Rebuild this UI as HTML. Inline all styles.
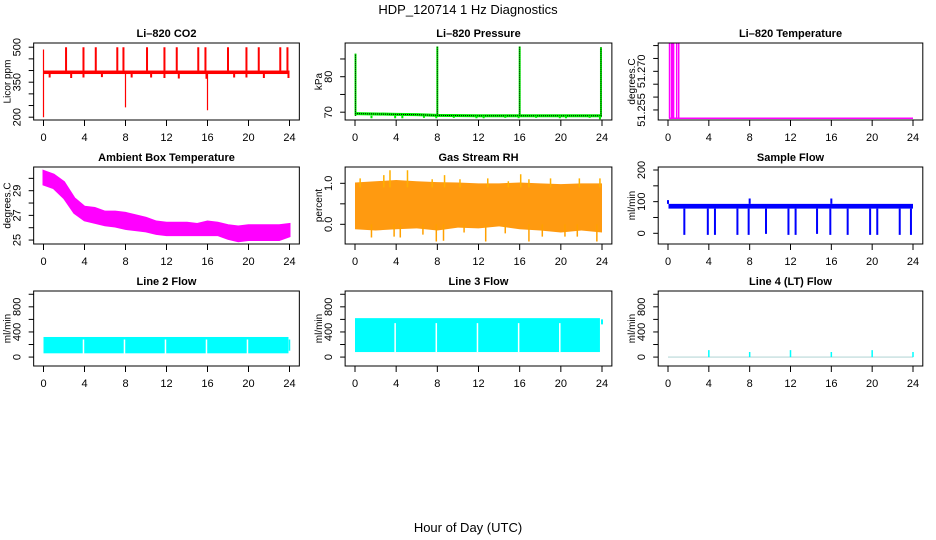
<!DOCTYPE html>
<html><head><meta charset="utf-8">
<style>
html,body{margin:0;padding:0;background:#fff;}
svg{display:block;font-family:"Liberation Sans",Arial,sans-serif;}
</style></head>
<body>
<svg id="chart" width="936" height="540" viewBox="0 0 936 540" xmlns="http://www.w3.org/2000/svg">
<text x="468" y="14" font-size="13" text-anchor="middle">HDP_120714  1 Hz Diagnostics</text>
<text x="468" y="532" font-size="13" text-anchor="middle">Hour of Day (UTC)</text>
</svg>
<script>
// ---- data ----
const xTicks = [0,4,8,12,16,20,24];
// CO2
const co2BaseLow = 385, co2BaseHigh = 400;
const co2SpikeHours = [2.2,3.9,5.1,7.2,7.8,10.1,11.8,13.0,15.1,15.8,18.0,19.8,21.0,23.1,23.8];
const co2SpikeValues = [500,500,500,500,500,500,500,500,500,500,500,500,500,500,500];
const co2DipHours = [0.6,2.7,3.9,5.7,8.6,10.5,11.8,13.2,15.9,18.6,19.8,21.5,23.9];
const co2DipValues = [370,368,370,372,370,370,368,366,365,370,370,368,368];
const co2BigDipHours = [0.0,8.0,16.0];
const co2BigDipValues = [200,242,230];
const co2Ticks = [200,250,300,350,400,450,500];
const co2TickLabels = ["200","","","350","","","500"];
// Pressure
const pressHours = [0,2,4,6,8,12,16,20,24];
const pressLevels = [69.6,69.5,69.4,69.3,69.1,69.0,69.0,69.0,69.0];
const pressSpikeHours = [0.05,8.0,16.0,23.9];
const pressSpikeValues = [86.5,88.5,88.5,88.3];
const pressDipHours = [1.6,3.9,4.6,6.7,7.9,9.6,11.8,12.5,14.6,15.9,17.6,19.9,20.5,22.8,23.8];
const pressDipValues = [68.3,68.3,68.3,68.4,68.3,68.4,68.3,68.3,68.4,68.3,68.4,68.3,68.3,68.4,68.0];
const pressTicks = [70,75,80,85];
const pressTickLabels = ["70","","80",""];
// Li-820 temperature
const tempBase = 51.2518;
const tempSpikeHours = [0.15,0.35,0.45,0.55,0.85,1.05];
const tempSpikeValues = [51.282,51.282,51.282,51.282,51.282,51.282];
const tempTicks = [51.255,51.260,51.265,51.270,51.275,51.280];
const tempTickLabels = ["51.255","","","51.270","",""];
// Ambient box temperature (hourly envelope)
const ambHours = [0,1,2,3,4,5,6,7,8,9,10,11,12,13,14,15,16,17,18,19,20,21,22,23,24];
const ambHigh = [30.6,30.3,29.7,28.4,27.7,27.6,27.3,27.3,27.2,27.0,26.8,26.5,26.4,26.4,26.4,26.3,26.5,26.4,26.2,26.1,26.2,26.2,26.2,26.2,26.3];
const ambLow = [29.5,29.2,28.4,27.2,26.6,26.4,26.2,26.1,25.9,25.8,25.7,25.5,25.4,25.4,25.4,25.4,25.4,25.4,25.1,24.9,25.0,25.0,25.0,25.0,25.3];
const ambTicks = [25,26,27,28,29,30];
const ambTickLabels = ["25","","27","","29",""];
// Gas stream RH
const rhHours = [0,2,4,6,8,10,12,14,16,18,20,22,24];
const rhHigh = [1.02,1.05,1.08,1.05,1.03,1.02,1.0,1.0,1.02,1.0,0.98,1.0,1.0];
const rhLow = [-0.12,-0.15,-0.12,-0.1,-0.15,-0.08,-0.1,-0.05,-0.12,-0.15,-0.2,-0.15,-0.2];
const rhSpikeHours = [0.5,2.8,3.4,5.1,7.5,8.7,10.2,12.9,14.9,16.1,16.9,19.0,21.8,23.8];
const rhSpikeValues = [1.12,1.2,1.32,1.32,1.1,1.2,1.1,1.12,1.05,1.22,1.1,1.12,1.12,1.12];
const rhDipHours = [1.6,3.8,4.4,6.6,7.9,8.6,10.6,12.7,14.6,16.9,18.2,20.4,21.6,23.5];
const rhDipValues = [-0.32,-0.3,-0.32,-0.25,-0.42,-0.4,-0.2,-0.42,-0.22,-0.42,-0.3,-0.3,-0.3,-0.42];
const rhTicks = [0,0.5,1.0];
const rhTickLabels = ["0.0","","1.0"];
// Sample flow
const sfBaseLow = 78, sfBaseHigh = 93;
const sfDropHours = [1.6,3.9,4.6,6.8,7.9,9.6,11.8,12.5,14.6,15.9,17.6,19.8,20.5,22.7,23.8];
const sfDropValues = [-5,-5,-5,-5,-5,-2,-5,-5,-2,-5,-5,-5,-5,-5,-5];
const sfSpikeHours = [0.0,8.0,16.0];
const sfSpikeValues = [105,110,110];
const sfTicks = [0,50,100,150,200];
const sfTickLabels = ["0","","100","","200"];
// Line flows
const lineFlowTicks = [0,200,400,600,800,1000];
const lineFlowTickLabels = ["0","","400","","800",""];
const gapHours = [4,8,12,16,20];
const line2Low = 60, line2High = 320;
const line3Low = 80, line3High = 620;
const line4SpikeHours = [4,8,12,16,20,24];
const line4SpikeValues = [110,80,110,80,110,80];

// ---- layout ----
const svg = document.getElementById('chart');
const NS = 'http://www.w3.org/2000/svg';
const cols = [{x0:43.5,x24:289.5},{x0:355,x24:602},{x0:668,x24:913}];
const rows = [{t:43,b:120},{t:167,b:244},{t:291,b:366}];
function mk(tag, attrs, parent){
  const e = document.createElementNS(NS, tag);
  for (const k in attrs) e.setAttribute(k, attrs[k]);
  (parent||svg).appendChild(e);
  return e;
}
function panel(name, title, ylab, ci, ri, ylim, ticks, tickLabels){
  const c = cols[ci], r = rows[ri];
  const ppx = (c.x24 - c.x0)/24;
  const P = {
    l: c.x0 - 0.96*ppx, r: c.x24 + 0.96*ppx, t: r.t, b: r.b,
    sx: h => c.x0 + h*ppx,
    sy: v => r.b - (v - ylim[0])/(ylim[1]-ylim[0])*(r.b - r.t)
  };
  const g = mk('g', {});
  
  
  P.g = g;
  const clip = mk('clipPath', {id:'clip-'+name}, g);
  mk('rect', {x:P.l, y:P.t, width:P.r-P.l, height:P.b-P.t}, clip);
  P.plot = mk('g', {'clip-path':'url(#clip-'+name+')'}, g);
  
  
  const tt = mk('text', {x:(P.l+P.r)/2, y:P.t-6, 'font-size':11, 'font-weight':'bold', 'text-anchor':'middle'}, g);
  tt.textContent = title;
  
  
  const bx = mk('rect', {x:P.l, y:P.t, width:P.r-P.l, height:P.b-P.t, fill:'none', stroke:'#000', 'stroke-width':1}, g);
  
  
  const xa = mk('g', {}, g);
  
  
  xTicks.forEach(h => {
    const x = P.sx(h);
    mk('line', {x1:x, x2:x, y1:P.b, y2:P.b+6, stroke:'#000'}, xa);
    const t = mk('text', {x:x, y:P.b+21, 'font-size':11, 'text-anchor':'middle'}, xa);
    t.textContent = String(h);
  });
  mk('line', {x1:P.sx(0), x2:P.sx(24), y1:P.b, y2:P.b, stroke:'#000'}, xa);
  const ya = mk('g', {}, g);
  
  
  ticks.forEach((v, i) => {
    const y = P.sy(v);
    mk('line', {x1:P.l-5, x2:P.l, y1:y, y2:y, stroke:'#000'}, ya);
    if (tickLabels[i]) {
      const t = mk('text', {x:0, y:0, 'font-size':11, 'text-anchor':'middle', transform:'translate('+(P.l-13)+','+y+') rotate(-90)'}, ya);
      t.textContent = tickLabels[i];
    }
  });
  const yl = mk('text', {x:0, y:0, 'font-size':10, 'text-anchor':'middle', transform:'translate('+(P.l-23)+','+((P.t+P.b)/2)+') rotate(-90)'}, g);
  yl.textContent = ylab;
  
  
  return P;
}
function vline(P, h, v1, v2, color, w, extra){
  const a = {x1:P.sx(h), x2:P.sx(h), y1:P.sy(v1), y2:P.sy(v2), stroke:color, 'stroke-width':w||1.5};
  if (extra) for (const k in extra) a[k] = extra[k];
  return mk('line', a, P.plot);
}
function band(P, h1, h2, lo, hi, fill){
  return mk('rect', {x:P.sx(h1), y:P.sy(hi), width:P.sx(h2)-P.sx(h1), height:P.sy(lo)-P.sy(hi), fill:fill}, P.plot);
}

// ---- CO2 ----
const pc = panel('co2', 'Li\u2013820 CO2', 'Licor ppm', 0, 0, [188,518], co2Ticks, co2TickLabels);
band(pc, 0.05, 24, co2BaseLow, co2BaseHigh, '#ff0000');
co2SpikeHours.forEach((h,i) => vline(pc, h, co2BaseHigh, co2SpikeValues[i], '#ff0000', 2));
co2DipHours.forEach((h,i) => vline(pc, h, co2BaseLow, co2DipValues[i], '#ff0000', 2));
co2BigDipHours.forEach((h,i) => vline(pc, h, co2BaseLow, co2BigDipValues[i], '#ff0000', 1.2));
vline(pc, 0.0, co2BaseLow, 490, '#ff0000', 1.2);

// ---- Pressure ----
const pp = panel('pressure', 'Li\u2013820 Pressure', 'kPa', 1, 0, [67.8,89.5], pressTicks, pressTickLabels);
const pPts = pressHours.map((h,i) => pp.sx(h)+','+pp.sy(pressLevels[i])).join(' ');
mk('polyline', {points:pPts, fill:'none', stroke:'#00ee00', 'stroke-width':3}, pp.plot);
mk('polyline', {points:pPts, fill:'none', stroke:'#000', 'stroke-width':1, 'stroke-dasharray':'1,1'}, pp.plot);
pressDipHours.forEach((h,i) => vline(pp, h, 69.0, pressDipValues[i], '#00ee00', 2));
pressSpikeHours.forEach((h,i) => {
  vline(pp, h, 69.0, pressSpikeValues[i], '#00ee00', 2);
  vline(pp, h, 69.0, pressSpikeValues[i], '#000', 1, {'stroke-dasharray':'1,1'});
});

// ---- Li-820 temperature ----
const pt = panel('li820-temp', 'Li\u2013820 Temperature', 'degrees.C', 2, 0, [51.2511,51.2810], tempTicks, tempTickLabels);
mk('line', {x1:pt.sx(0.1), x2:pt.sx(24), y1:pt.sy(tempBase), y2:pt.sy(tempBase), stroke:'#ff00ff', 'stroke-width':1.5}, pt.plot);
tempSpikeHours.forEach((h,i) => vline(pt, h, tempBase, tempSpikeValues[i], '#ff00ff', 1.5));

// ---- Ambient ----
const pa = panel('ambient-temp', 'Ambient Box Temperature', 'degrees.C', 0, 1, [24.68,30.92], ambTicks, ambTickLabels);
const aTop = ambHours.map((h,i) => pa.sx(h)+','+pa.sy(ambHigh[i]));
const aBot = ambHours.map((h,i) => pa.sx(h)+','+pa.sy(ambLow[i])).reverse();
mk('polygon', {points:aTop.concat(aBot).join(' '), fill:'#ff00ff', stroke:'#ff00ff', 'stroke-width':2}, pa.plot);

// ---- RH ----
const pr = panel('gas-rh', 'Gas Stream RH', 'percent', 1, 1, [-0.48,1.398], rhTicks, rhTickLabels);
const rTop = rhHours.map((h,i) => pr.sx(h)+','+pr.sy(rhHigh[i]));
const rBot = rhHours.map((h,i) => pr.sx(h)+','+pr.sy(rhLow[i])).reverse();
mk('polygon', {points:rTop.concat(rBot).join(' '), fill:'#ff9a10'}, pr.plot);
rhSpikeHours.forEach((h,i) => vline(pr, h, 0.9, rhSpikeValues[i], '#ffb000', 1.5));
rhDipHours.forEach((h,i) => vline(pr, h, 0, rhDipValues[i], '#ffa000', 1.5));

// ---- Sample flow ----
const ps = panel('sample-flow', 'Sample Flow', 'ml/min', 2, 1, [-33.8,209.5], sfTicks, sfTickLabels);
band(ps, 0.05, 24, sfBaseLow, sfBaseHigh, '#0000ff');
sfDropHours.forEach((h,i) => vline(ps, h, sfBaseLow, sfDropValues[i], '#0000ff', 2));
sfSpikeHours.forEach((h,i) => vline(ps, h, sfBaseHigh, sfSpikeValues[i], '#0000ff', 2));

// ---- Line 2 ----
const p2 = panel('line2-flow', 'Line 2 Flow', 'ml/min', 0, 2, [-142,1052], lineFlowTicks, lineFlowTickLabels);
band(p2, 0, 23.9, line2Low, line2High, '#00ffff');
gapHours.forEach(h => vline(p2, h-0.1, line2Low-5, line2High-40, '#ffffff', 1.5));
vline(p2, 24, 100, 280, '#00ffff', 1.5);

// ---- Line 3 ----
const p3 = panel('line3-flow', 'Line 3 Flow', 'ml/min', 1, 2, [-142,1052], lineFlowTicks, lineFlowTickLabels);
band(p3, 0, 23.8, line3Low, line3High, '#00ffff');
gapHours.forEach(h => vline(p3, h-0.1, line3Low, line3High-80, '#ffffff', 1.5));
vline(p3, 24, 520, 600, '#00ffff', 2);

// ---- Line 4 ----
const p4 = panel('line4-flow', 'Line 4 (LT) Flow', 'ml/min', 2, 2, [-142,1052], lineFlowTicks, lineFlowTickLabels);
mk('line', {x1:p4.sx(0), x2:p4.sx(24), y1:p4.sy(0), y2:p4.sy(0), stroke:'#b8d8d8', 'stroke-width':1.2}, p4.plot);
line4SpikeHours.forEach((h,i) => vline(p4, h, 0, line4SpikeValues[i], '#00ffff', 1.5));
</script>
</body></html>
